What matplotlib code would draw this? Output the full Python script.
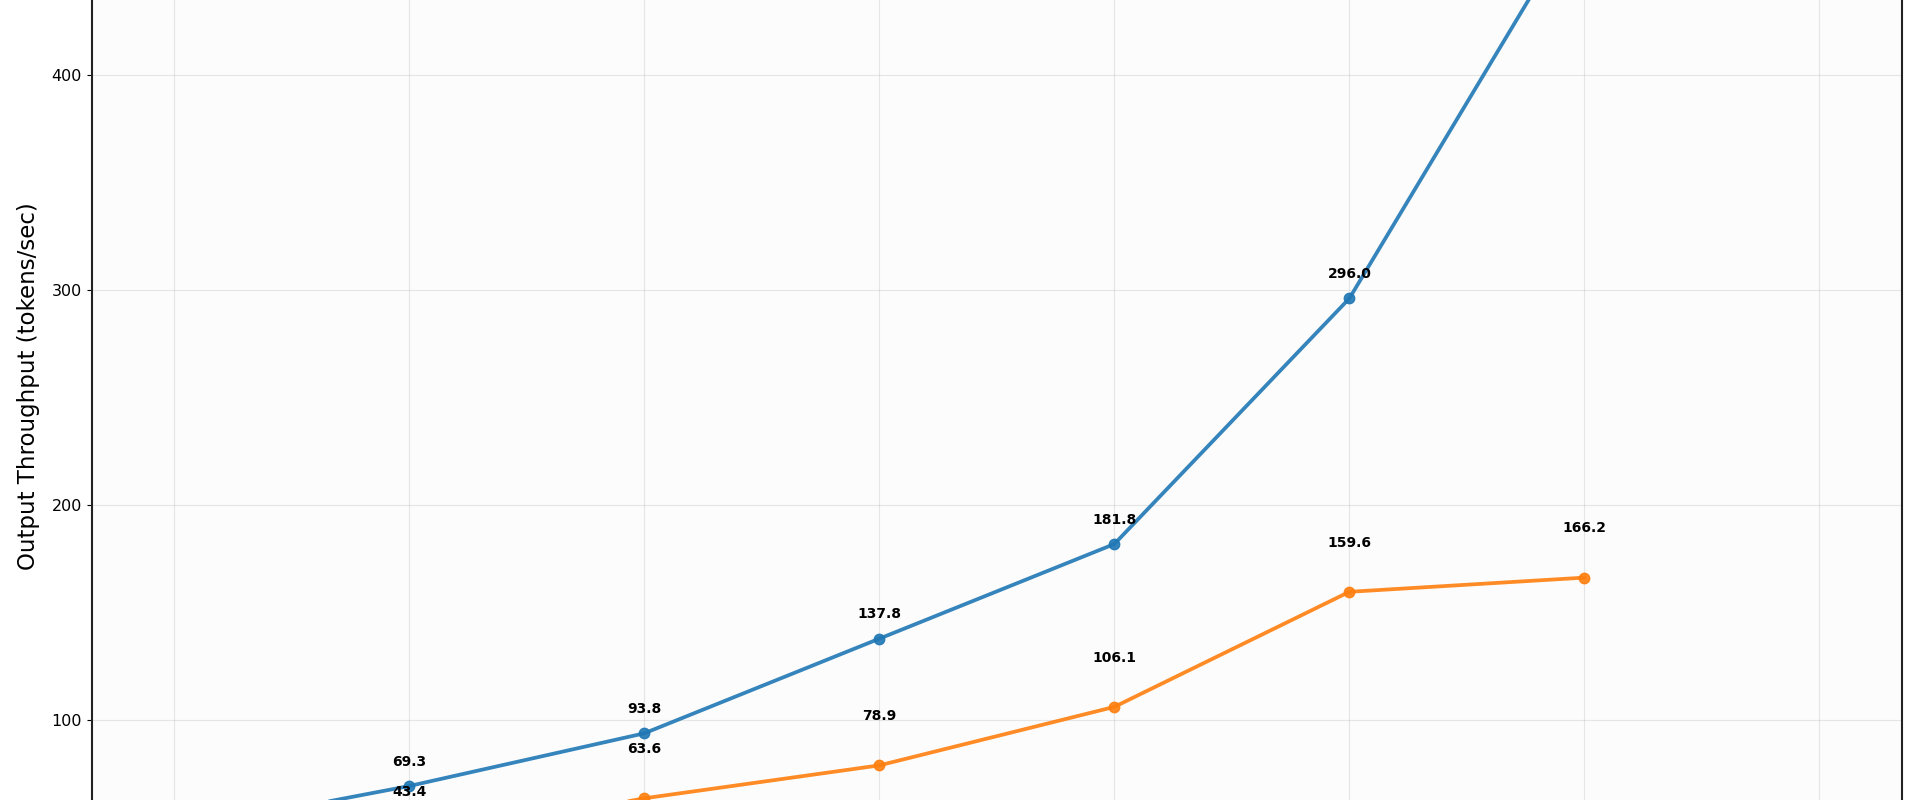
import matplotlib.pyplot as plt
import numpy as np

# batch sizes on the x axis (tick labels fall outside the visible crop)
batch_sizes = ["1", "2", "4", "8", "16", "32", "64", "128"]

# output throughput, tokens/sec
series_a = [48.5, 69.3, 93.8, 137.8, 181.8, 296.0, 478.0]
series_b = [26.0, 43.4, 63.6, 78.9, 106.1, 159.6, 166.2]

blue = "#1f77b4"
orange = "#ff7f0e"

fig = plt.figure(figsize=(19.2, 8), dpi=100)
fig.patch.set_facecolor("white")

# axes reach past the figure edges, the picture only shows a slice of it
ax = fig.add_axes([0.0478, -0.1689, 0.9427, 1.3729])
ax.set_facecolor("#fcfcfc")

x_a = np.arange(len(series_a))
x_b = np.arange(len(series_b))

ax.plot(x_a, series_a, color=blue, marker="o", linewidth=2.7, markersize=7.5, alpha=0.9)
ax.plot(x_b, series_b, color=orange, marker="o", linewidth=2.7, markersize=7.5, alpha=0.9)

# value labels
for xi, v in zip(x_a, series_a):
    ax.annotate(f"{v:.1f}", (xi, v), xytext=(0, 17.5), textcoords="offset points",
                ha="center", va="center", fontsize=10, fontweight="bold")
for xi, v in zip(x_b, series_b):
    ax.annotate(f"{v:.1f}", (xi, v), xytext=(0, 35.5), textcoords="offset points",
                ha="center", va="center", fontsize=10, fontweight="bold")

ax.set_xlim(-0.35, len(batch_sizes) - 1 + 0.35)
ax.set_ylim(0, 510.6)
ax.set_xticks(np.arange(len(batch_sizes)))
ax.set_xticklabels(batch_sizes)
ax.set_yticks([0, 100, 200, 300, 400, 500])

ax.grid(True, alpha=0.3)
ax.set_axisbelow(True)
ax.tick_params(labelsize=11.5)
ax.set_ylabel("Output Throughput (tokens/sec)", fontsize=16.5, labelpad=8)

for s in ax.spines.values():
    s.set_linewidth(1.5)
    s.set_color("#222222")

fig.savefig("out.png", dpi=100)
